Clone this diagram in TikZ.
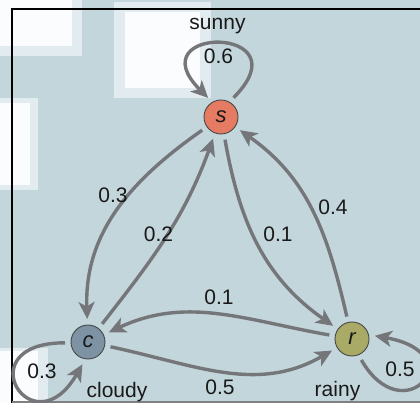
\documentclass[tikz,border=0pt]{standalone}
\usepackage{fontspec}
\setmainfont{Liberation Sans}
\usetikzlibrary{arrows.meta}
\definecolor{bgblue}{RGB}{195,214,220}
\definecolor{patchwhite}{RGB}{250,252,253}
\definecolor{patchedge}{RGB}{226,236,240}
\definecolor{edgegray}{RGB}{117,118,122}
\definecolor{sunnyfill}{RGB}{228,123,98}
\definecolor{cloudyfill}{RGB}{125,147,164}
\definecolor{rainyfill}{RGB}{168,170,102}
\definecolor{ringgray}{RGB}{70,70,70}
\definecolor{inkgray}{RGB}{25,25,25}
\begin{document}
\begin{tikzpicture}[x=1pt,y=1pt,
  state/.style={circle, draw=ringgray, line width=0.9pt, minimum size=34pt,
    inner sep=0pt, outer sep=6pt, text=inkgray,
    font=\fontsize{22}{24}\selectfont\itshape},
  trans/.style={draw=edgegray, line width=3.4pt,
    -{Stealth[length=17pt,width=16pt,inset=4.5pt]}},
  lbl/.style={inner sep=0pt, anchor=base, text=inkgray,
    font=\fontsize{21}{24}\selectfont},
  ]
\useasboundingbox (0,0) rectangle (420,403);
\fill[bgblue] (0,0) rectangle (420,403);
% pale blocks in the backdrop
\fill[patchedge] (0,347) rectangle (82,403);
\fill[patchwhite] (0,357) rectangle (72,403);
\fill[patchedge] (114,305) rectangle (211,401);
\fill[patchwhite] (125,315) rectangle (200,391);
\fill[patchedge] (0,213) rectangle (38,305);
\fill[patchwhite] (0,218) rectangle (30,300);
\fill[patchedge] (0,0) rectangle (48,55);
\fill[patchwhite] (0,0) rectangle (38,52);
% frame
\draw[black, line width=1.8pt] (12,-5) -- (12,394) -- (430,394);
\draw[gray, line width=1.5pt] (12,1) -- (430,1);

% states
\node[state, fill=sunnyfill] (s) at (221,286) {s};
\node[state, fill=cloudyfill] (c) at (88,61) {c};
\node[state, fill=rainyfill] (r) at (352,64) {r};

% transitions
\draw[trans] (s) to[out=215,in=92] (c);
\draw[trans] (c) to[out=52,in=250] (s);
\draw[trans] (s) to[out=280,in=145] (r);
\draw[trans] (r) to[out=103,in=-35] (s);
\draw[trans] (r) to[out=170,in=25] (c);
\draw[trans] (c) to[out=-12,in=210] (r);
\draw[trans] (s.57) .. controls +(45:103) and +(135:103) .. (s.124);
\draw[trans] (c.182) .. controls +(180:100) and +(240:100) .. (c.256);
\draw[trans] (r.-66) .. controls +(-60:85) and +(-10:100) .. (r.8);

% labels
\node[lbl] (lsunny) at (217.5,373) {sunny};
\node[lbl] (lss) at (218.5,339) {0.6};
\node[lbl] (lsc) at (113,200) {0.3};
\node[lbl] (lcs) at (158.5,161) {0.2};
\node[lbl] (lsr) at (278,161) {0.1};
\node[lbl] (lrs) at (333,188) {0.4};
\node[lbl] (lrc) at (219,98) {0.1};
\node[lbl] (lcr) at (220,8) {0.5};
\node[lbl] (lcc) at (42,24) {0.3};
\node[lbl] (lcloudy) at (117,5) {cloudy};
\node[lbl] (lrainy) at (337.5,6) {rainy};
\node[lbl] (lrr) at (400,26) {0.5};
\end{tikzpicture}
\end{document}
